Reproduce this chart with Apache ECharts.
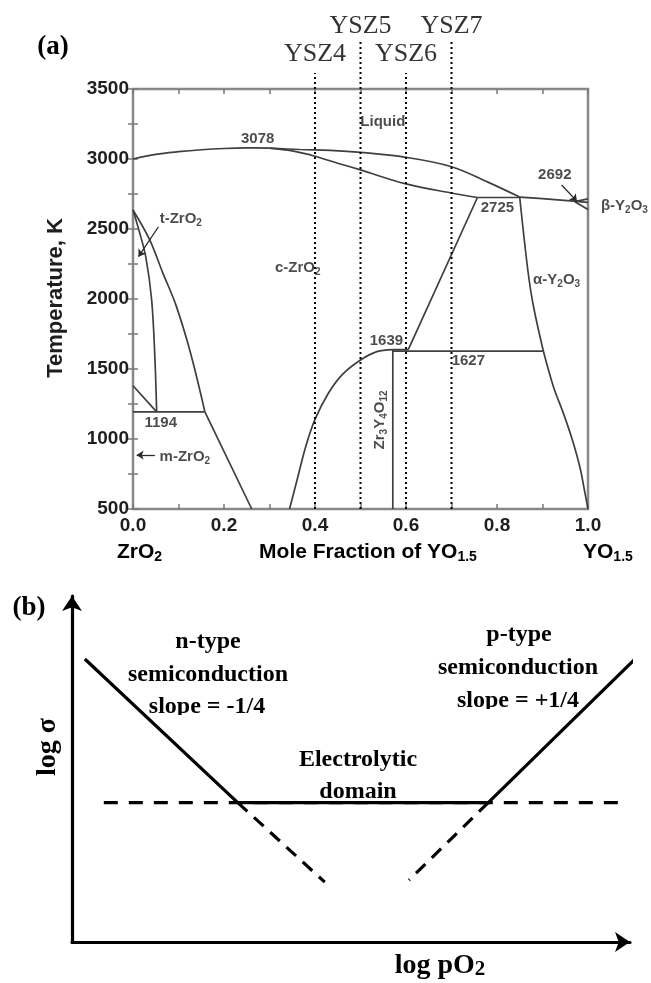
<!DOCTYPE html>
<html>
<head>
<meta charset="utf-8">
<script src="https://cdn.jsdelivr.net/npm/echarts@6.0.0/dist/echarts.min.js"></script>
<style>
html, body { margin: 0; padding: 0; background: #fff; }
#chart { width: 651px; height: 983px; }
</style>
</head>
<body>
<div id="chart"></div>
<script>
// ---- (a) ZrO2–YO1.5 phase boundaries: [mole fraction YO1.5, temperature K] ----
const liquidusLeft   = [[0, 3000], [0.05, 3033], [0.1, 3052], [0.15, 3066], [0.2, 3075], [0.25, 3079], [0.3, 3078]];
const liquidusRight  = [[0.3, 3078], [0.367, 3068], [0.433, 3062], [0.5, 3048], [0.6, 3012], [0.7, 2945], [0.78, 2835], [0.85, 2728]];
const liquidusY2O3   = [[0.85, 2728], [0.92, 2712], [0.975, 2697], [1.0, 2690]];
const solidus        = [[0.3, 3078], [0.35, 3058], [0.4, 3020], [0.45, 2970], [0.5, 2922], [0.6, 2822], [0.7, 2757], [0.757, 2725]];
const peritectic     = [[0.757, 2725], [0.85, 2725]];
const cubicSolvus    = [[0.757, 2725], [0.605, 1639]];
const alphaUpper     = [[0.85, 2725], [0.868, 2200], [0.88, 1950], [0.902, 1627]];
const alphaLower     = [[0.902, 1627], [0.924, 1374], [0.946, 1183], [0.965, 1000], [0.982, 802], [0.993, 620], [1.0, 500]];
const eutectoidY     = [[0.571, 1627], [0.902, 1627]];
const compoundTop    = [[0.571, 1639], [0.605, 1639]];
const cubicDome      = [[0.344, 500], [0.36, 700], [0.38, 950], [0.4, 1140], [0.43, 1330], [0.46, 1460], [0.5, 1564], [0.536, 1624], [0.571, 1639]];
const compoundLine   = [[0.571, 500], [0.571, 1639]];
const tetraInner     = [[0, 2636], [0.014, 2480], [0.028, 2302], [0.041, 1993], [0.048, 1588], [0.052, 1194]];
const tetraOuter     = [[0, 2636], [0.037, 2421], [0.065, 2190], [0.094, 1960], [0.126, 1620], [0.158, 1194]];
const monoEdge       = [[0, 1380], [0.052, 1194]];
const eutectoidZr    = [[0, 1194], [0.158, 1194]];
const monoTetra      = [[0.158, 1194], [0.261, 500]];
const betaUpper      = [[0.971, 2695], [1.0, 2715]];
const betaLower      = [[0.971, 2695], [1.0, 2640]];

const smoothCurves = [liquidusLeft, liquidusRight, liquidusY2O3, solidus, alphaUpper, alphaLower, cubicDome, tetraInner, tetraOuter];
const straightLines = [peritectic, cubicSolvus, eutectoidY, compoundTop, compoundLine, monoEdge, eutectoidZr, monoTetra, betaUpper, betaLower];

// compositions marked by dotted lines, with the temperature reached above the frame
const yszNames     = ['YSZ4', 'YSZ5', 'YSZ6', 'YSZ7'];
const yszFractions = [0.4, 0.5, 0.6, 0.7];
const yszLineTop   = [3614, 3857, 3614, 3857];
const yszLabelT    = [3752, 3952, 3752, 3952];

// axis ticks
const xTickStep = 0.1, xLabelStep = 0.2;
const yTickStep = 250, yLabelStep = 500;

// phase-field and invariant-point annotations
const phaseLabels = [
  { text: '3078', x: 0.274, T: 3141 },
  { text: 'Liquid', x: 0.549, T: 3266 },
  { text: 'c-ZrO{s|2}', x: 0.362, T: 2221 },
  { text: 't-ZrO{s|2}', x: 0.105, T: 2576 },
  { text: '1194', x: 0.061, T: 1116 },
  { text: 'm-ZrO{s|2}', x: 0.114, T: 873 },
  { text: '2692', x: 0.927, T: 2886 },
  { text: 'β-Y{s|2}O{s|3}', x: 1.08, T: 2664 },
  { text: '2725', x: 0.801, T: 2652 },
  { text: 'α-Y{s|2}O{s|3}', x: 0.931, T: 2136 },
  { text: '1639', x: 0.557, T: 1700 },
  { text: '1627', x: 0.737, T: 1557 },
  { text: 'Zr{s|3}Y{s|4}O{s|12}', x: 0.542, T: 1136, rotate: 90 }
];
// leader arrows [from, to]
const labelArrows = [
  [[0.056, 2516], [0.012, 2302]],
  [[0.048, 885], [0.008, 885]],
  [[0.942, 2814], [0.976, 2697]],
  [[1.03, 2671], [0.996, 2671]]
];

// ---- (b) conductivity vs oxygen partial pressure (schematic units) ----
const totalConductivity = [[0.23, 8.18], [2.97, 4.03], [7.46, 4.03], [10.09, 8.18]];
const ionicPlateau      = [[0.57, 4.03], [9.91, 4.03]];
const nTypeExtension    = [[2.97, 4.03], [4.53, 1.73]];
const pTypeExtension    = [[7.46, 4.03], [6.04, 1.79]];

const SANS = "'Liberation Sans', Arial, sans-serif";
const SERIF = "'Liberation Serif', 'Times New Roman', serif";
const INK = '#1e1e1e';
const PHASE = '#3f3f3f';

const subRich = (size, sub, shift, family, weight, color) => ({
  s: { fontSize: sub, fontFamily: family, fontWeight: weight, color: color, padding: [shift, 0, 0, 0] },
  m: { fontSize: size, fontFamily: family, fontWeight: weight, color: color }
});

const series = [];

smoothCurves.forEach(d => series.push({
  type: 'line', xAxisIndex: 0, yAxisIndex: 0, data: d, smooth: 0.35,
  symbol: 'none', silent: true, lineStyle: { color: PHASE, width: 1.7 }, z: 3
}));
straightLines.forEach(d => series.push({
  type: 'line', xAxisIndex: 0, yAxisIndex: 0, data: d,
  symbol: 'none', silent: true, lineStyle: { color: PHASE, width: 1.7 }, z: 3
}));

// dotted composition markers
yszFractions.forEach((f, i) => series.push({
  type: 'line', xAxisIndex: 0, yAxisIndex: 0, clip: false,
  data: [[f, 500], [f, yszLineTop[i]]], symbol: 'none', silent: true,
  lineStyle: { color: '#000', width: 2, type: [2, 3] }, z: 4
}));

// composition names
series.push({
  type: 'scatter', xAxisIndex: 0, yAxisIndex: 0, clip: false, silent: true,
  symbolSize: 1, itemStyle: { color: 'rgba(0,0,0,0)' },
  data: yszNames.map((n, i) => ({ value: [yszFractions[i], yszLabelT[i]], name: n })),
  label: { show: true, position: 'inside', formatter: '{b}', color: '#000', fontFamily: SERIF, fontSize: 26 }
});

// phase annotations
series.push({
  type: 'scatter', xAxisIndex: 0, yAxisIndex: 0, clip: false, silent: true,
  symbolSize: 1, itemStyle: { color: 'rgba(0,0,0,0)' },
  data: phaseLabels.map(p => ({
    value: [p.x, p.T],
    label: { formatter: p.text, rotate: p.rotate || 0 }
  })),
  label: {
    show: true, position: 'inside', color: INK, fontFamily: SANS, fontWeight: 'bold', fontSize: 15,
    rich: subRich(15, 10, 9, SANS, 'bold', INK)
  },
  z: 5
});

// leader arrows
series.push({
  type: 'line', xAxisIndex: 0, yAxisIndex: 0, data: [], clip: false, silent: true,
  markLine: {
    silent: true, animation: false, symbol: ['none', 'arrow'], symbolSize: 7,
    label: { show: false },
    lineStyle: { color: '#2a2a2a', width: 1.3, type: 'solid' },
    emphasis: { disabled: true },
    data: labelArrows.map(a => [{ coord: a[0] }, { coord: a[1] }])
  }
});

// panel (b)
const bLine = (d, dash) => ({
  type: 'line', xAxisIndex: 2, yAxisIndex: 2, data: d, clip: false,
  symbol: 'none', silent: true,
  lineStyle: { color: '#000', width: 3.2, type: dash || 'solid', cap: 'butt' }, z: 3
});
series.push(bLine(ionicPlateau, [14, 11]));
series.push(bLine(nTypeExtension, [13, 9]));
series.push(bLine(pTypeExtension, [13, 9]));
series.push(bLine(totalConductivity));

const tickStyle = { show: true, inside: true, length: 5, lineStyle: { color: '#7a7a7a', width: 1.5 } };
const labelFont = { color: INK, fontFamily: SANS, fontWeight: 'bold', fontSize: 19 };

const option = {
  animation: false,
  backgroundColor: '#fff',
  grid: [
    { left: 133, top: 89, width: 455, height: 420, show: true, borderColor: '#888', borderWidth: 2.5, backgroundColor: 'transparent', outerBoundsMode: 'none', containLabel: false },
    { left: 72, top: 596, width: 558, height: 346, show: false, outerBoundsMode: 'none', containLabel: false }
  ],
  xAxis: [
    { type: 'value', gridIndex: 0, min: 0, max: 1, interval: xTickStep, position: 'bottom',
      axisLine: { show: false }, splitLine: { show: false }, axisTick: tickStyle,
      axisLabel: Object.assign({ margin: 7, formatter: v => (Math.round(v / xTickStep) % Math.round(xLabelStep / xTickStep) === 0 ? v.toFixed(1) : '') }, labelFont) },
    { type: 'value', gridIndex: 0, min: 0, max: 1, interval: xTickStep, position: 'top',
      axisLine: { show: false }, splitLine: { show: false }, axisTick: tickStyle, axisLabel: { show: false } },
    { type: 'value', gridIndex: 1, min: 0, max: 10,
      axisLine: { show: true, onZero: false, symbol: ['none', 'arrow'], symbolSize: [15, 15], lineStyle: { color: '#000', width: 3.2 } },
      axisTick: { show: false }, axisLabel: { show: false }, splitLine: { show: false } }
  ],
  yAxis: [
    { type: 'value', gridIndex: 0, min: 500, max: 3500, interval: yTickStep, position: 'left',
      axisLine: { show: false }, splitLine: { show: false }, axisTick: tickStyle,
      axisLabel: Object.assign({ margin: 4, formatter: v => (v % yLabelStep === 0 ? String(v) : '') }, labelFont) },
    { type: 'value', gridIndex: 0, min: 500, max: 3500, interval: yTickStep, position: 'right',
      axisLine: { show: false }, splitLine: { show: false }, axisTick: tickStyle, axisLabel: { show: false } },
    { type: 'value', gridIndex: 1, min: 0, max: 10,
      axisLine: { show: true, onZero: false, symbol: ['none', 'arrow'], symbolSize: [15, 15], lineStyle: { color: '#000', width: 3.2 } },
      axisTick: { show: false }, axisLabel: { show: false }, splitLine: { show: false } }
  ],
  graphic: [
    { type: 'text', x: 53, y: 47, z: 0, style: { text: '(a)', font: "bold 27px 'Liberation Serif'", fill: '#000', align: 'center', verticalAlign: 'middle' } },
    { type: 'text', x: 56, y: 298, rotation: Math.PI / 2, z: 0, style: { text: 'Temperature, K', font: "bold 22px 'Liberation Sans'", fill: INK, align: 'center', verticalAlign: 'middle' } },
    { type: 'text', x: 368, y: 552, z: 0, style: { text: '{m|Mole Fraction of YO}{s|1.5}', rich: subRich(21, 14, 11, SANS, 'bold', INK), align: 'center', verticalAlign: 'middle' } },
    { type: 'text', x: 117, y: 552, z: 0, style: { text: '{m|ZrO}{s|2}', rich: subRich(21, 14, 11, SANS, 'bold', INK), align: 'left', verticalAlign: 'middle' } },
    { type: 'text', x: 583, y: 552, z: 0, style: { text: '{m|YO}{s|1.5}', rich: subRich(21, 14, 11, SANS, 'bold', INK), align: 'left', verticalAlign: 'middle' } },

    { type: 'text', x: 29, y: 608, z: 0, style: { text: '(b)', font: "bold 27px 'Liberation Serif'", fill: '#000', align: 'center', verticalAlign: 'middle' } },
    { type: 'text', x: 48, y: 747, rotation: Math.PI / 2, z: 0, style: { text: 'log σ', font: "bold 28px 'Liberation Serif'", fill: '#000', align: 'center', verticalAlign: 'middle' } },
    { type: 'text', x: 440, y: 966, z: 0, style: { text: '{m|log pO}{s|2}', rich: subRich(28, 21, 8, SERIF, 'bold', '#000'), align: 'center', verticalAlign: 'middle' } },
    { type: 'text', x: 208, y: 642, z: 0, style: { text: 'n-type', font: "bold 24px 'Liberation Serif'", fill: '#000', align: 'center', verticalAlign: 'middle' } },
    { type: 'text', x: 208, y: 675, z: 0, style: { text: 'semiconduction', font: "bold 24px 'Liberation Serif'", fill: '#000', align: 'center', verticalAlign: 'middle' } },
    { type: 'text', x: 207, y: 707, z: 0, style: { text: 'slope = -1/4', font: "bold 24px 'Liberation Serif'", fill: '#000', align: 'center', verticalAlign: 'middle' } },
    { type: 'text', x: 519, y: 635, z: 0, style: { text: 'p-type', font: "bold 24px 'Liberation Serif'", fill: '#000', align: 'center', verticalAlign: 'middle' } },
    { type: 'text', x: 518, y: 668, z: 0, style: { text: 'semiconduction', font: "bold 24px 'Liberation Serif'", fill: '#000', align: 'center', verticalAlign: 'middle' } },
    { type: 'text', x: 518, y: 701, z: 0, style: { text: 'slope = +1/4', font: "bold 24px 'Liberation Serif'", fill: '#000', align: 'center', verticalAlign: 'middle' } },
    { type: 'text', x: 358, y: 760, z: 0, style: { text: 'Electrolytic', font: "bold 24px 'Liberation Serif'", fill: '#000', align: 'center', verticalAlign: 'middle' } },
    { type: 'text', x: 358, y: 792, z: 0, style: { text: 'domain', font: "bold 24px 'Liberation Serif'", fill: '#000', align: 'center', verticalAlign: 'middle' } },
    // the slope captions are cut at their baseline
    { type: 'rect', z: 1, shape: { x: 135, y: 715, width: 150, height: 11 }, style: { fill: '#fff' } },
    { type: 'rect', z: 1, shape: { x: 440, y: 709, width: 160, height: 11 }, style: { fill: '#fff' } }
  ],
  series: series
};

const chart = echarts.init(document.getElementById('chart'), null, { renderer: 'canvas' });
chart.setOption(option);
</script>
</body>
</html>
